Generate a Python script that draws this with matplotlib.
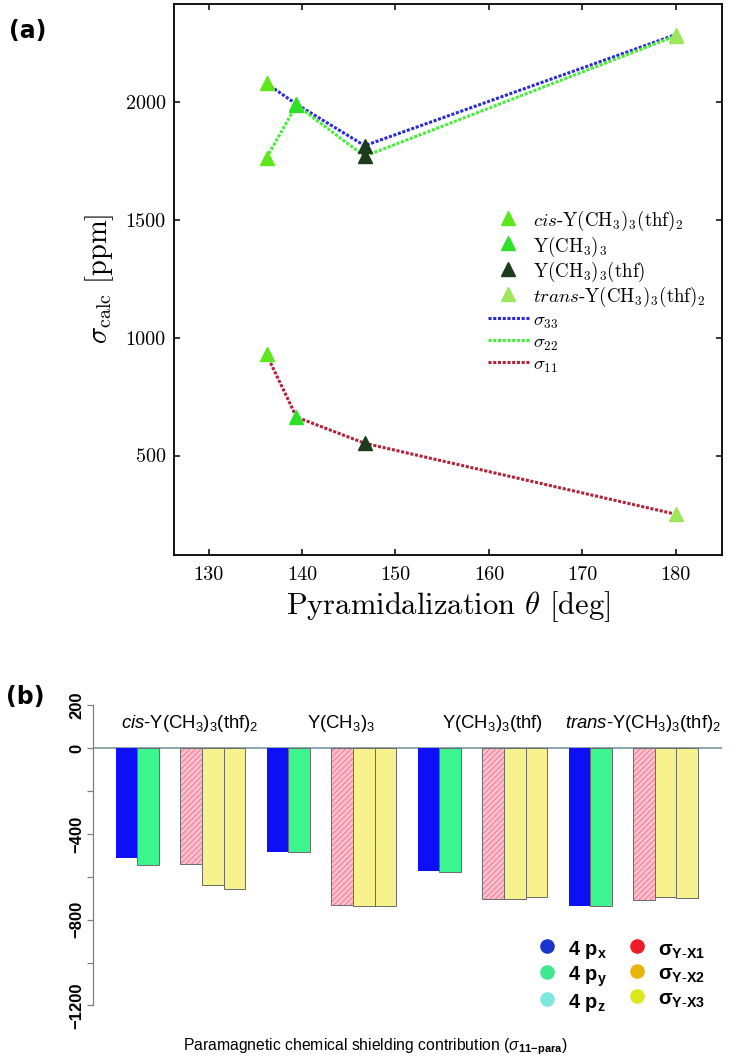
import numpy as np
import matplotlib
matplotlib.use('Agg')
import matplotlib.pyplot as plt
from matplotlib.lines import Line2D

# ---- panel (a): shielding tensor vs pyramidalization ----
compounds = [r'$cis$-Y(CH$_3$)$_3$(thf)$_2$', r'Y(CH$_3$)$_3$',
             r'Y(CH$_3$)$_3$(thf)', r'$trans$-Y(CH$_3$)$_3$(thf)$_2$']
theta = [136.2, 139.4, 146.7, 180.0]
sigma33 = [2078, 1990, 1814, 2285]
sigma22 = [1763, 1986, 1769, 2280]
sigma11 = [929, 663, 552, 251]
x_ticks_a = [130, 140, 150, 160, 170, 180]
y_ticks_a = [500, 1000, 1500, 2000]

# ---- panel (b): paramagnetic contributions ----
groups = [r'$\mathit{cis}$-Y(CH$_3$)$_3$(thf)$_2$', r'Y(CH$_3$)$_3$',
          r'Y(CH$_3$)$_3$(thf)', r'$\mathit{trans}$-Y(CH$_3$)$_3$(thf)$_2$']
p_x = [-511, -483, -572, -735]
p_y = [-543, -485, -577, -734]
p_z = [0, 0, 0, 0]
s_x1 = [-540, -731, -705, -706]
s_x2 = [-640, -734, -705, -695]
s_x3 = [-658, -734, -695, -698]
y_ticks_b = [-1200, -1000, -800, -600, -400, -200, 0, 200]
y_labels_b = ['\u22121200', '', '\u2212800', '', '\u2212400', '', '0', '200']

plt.rcParams['mathtext.fontset'] = 'custom'
plt.rcParams['mathtext.rm'] = 'Liberation Sans'
plt.rcParams['mathtext.it'] = 'Liberation Sans:italic'
plt.rcParams['mathtext.bf'] = 'Liberation Sans:bold'
plt.rcParams['hatch.linewidth'] = 0.6

fig = plt.figure(figsize=(7.49, 10.64), dpi=100)

# ---------------- (a) ----------------
ax = fig.add_axes([0.2323, 0.4788, 0.7312, 0.5175])
mk_colors = ['#5ce81c', '#2fe02a', '#1c3a1c', '#9ee65a']
line_colors = ['#2a2ad6', '#45ee35', '#b02238']
dots = (0, (1, 0.55))
ax.plot(theta, sigma33, color=line_colors[0], lw=2.2, ls=dots, zorder=2)
ax.plot(theta, sigma22, color=line_colors[1], lw=2.2, ls=dots, zorder=2)
ax.plot(theta, sigma11, color=line_colors[2], lw=2.2, ls=dots, zorder=2)
for i in range(len(theta)):
    ax.plot([theta[i]] * 3, [sigma11[i], sigma22[i], sigma33[i]], ls='',
            marker='^', ms=10.5, color=mk_colors[i], zorder=3)

ax.set_xlim(126.3, 184.9)
ax.set_ylim(80, 2415)
ax.set_xticks(x_ticks_a)
ax.set_xticklabels([str(v) for v in x_ticks_a], family='cmr10', size=14.5)
ax.set_yticks(y_ticks_a)
ax.set_yticklabels([str(v) for v in y_ticks_a], family='cmr10', size=14.5)
ax.tick_params(direction='in', top=True, right=True, length=4.5, width=1.1, pad=6)
ax.tick_params(axis='x', pad=8)
for s in ax.spines.values():
    s.set_linewidth(1.3)

xl = ax.set_xlabel(r'Pyramidalization $\theta$ [deg]', family='cmr10', size=22)
xl.set_math_fontfamily('cm')
ax.xaxis.set_label_coords(0.5, -0.062)
yl = ax.set_ylabel(r'$\sigma_{\rm calc}$ [ppm]', family='cmr10', size=20.5)
yl.set_math_fontfamily('cm')
ax.yaxis.set_label_coords(-0.105, 0.5)

handles = [Line2D([], [], ls='', marker='^', ms=10.5, color=c) for c in mk_colors]
handles += [Line2D([], [], color=c, lw=2.2, ls=dots) for c in line_colors]
labels = compounds + [r'$\sigma_{33}$', r'$\sigma_{22}$', r'$\sigma_{11}$']
leg = ax.legend(handles, labels, loc='upper left', bbox_to_anchor=(0.5554, 0.6445),
                frameon=False, borderpad=0, handlelength=2.2, handletextpad=0.2,
                handleheight=1.2, labelspacing=0.05,
                prop={'family': 'cmr10', 'size': 13.6})
for t in leg.get_texts():
    t.set_math_fontfamily('cm')

fig.text(28 / 749, 1 - 31 / 1064, '(a)', weight='bold', size=17,
         ha='center', va='center')

# ---------------- (b) ----------------
axb = fig.add_axes([0.1238, 0.04605, 0.8407, 0.3008])
base = np.arange(len(groups)) * 7
edge = '#6a6a6a'
axb.bar(base + 0, p_x, width=1, align='edge', color='#0d10f5', lw=0)
axb.bar(base + 1, p_y, width=1, align='edge', color='#3df58f', edgecolor=edge, lw=0.7)
axb.bar(base + 2, p_z, width=1, align='edge', color='#7fe5e0', lw=0)
axb.bar(base + 3, s_x1, width=1, align='edge', color='#fbc0cc', edgecolor='#ee6f8c',
        hatch='//////', lw=0)
axb.bar(base + 3, s_x1, width=1, align='edge', fill=False, edgecolor=edge, lw=0.7)
axb.bar(base + 4, s_x2, width=1, align='edge', color='#f7f18e', edgecolor=edge, lw=0.7)
axb.bar(base + 5, s_x3, width=1, align='edge', color='#f7f18e', edgecolor=edge, lw=0.7)
axb.axhline(0, color='#6f8c99', lw=1.1, zorder=0.5)

for g, name in enumerate(groups):
    axb.text(base[g] + 3.45, 117, name, ha='center', va='center', size=13.3,
             family='Liberation Sans')

axb.set_xlim(-1.07, 28.13)
axb.set_ylim(-1244.5, 248.7)
axb.set_xticks([])
axb.set_yticks(y_ticks_b)
axb.set_yticklabels(y_labels_b, rotation=90, va='center', weight='bold',
                    size=12, family='Liberation Sans')
axb.tick_params(axis='y', length=4, width=0.9, color='#808080', pad=2)
for side in ['top', 'right', 'bottom']:
    axb.spines[side].set_visible(False)
axb.spines['left'].set_bounds(-1200, 200)
axb.spines['left'].set_color('#808080')
axb.spines['left'].set_linewidth(0.9)

axb.set_xlabel(r'Paramagnetic chemical shielding contribution ($\sigma_{\mathbf{11\!-\!para}}$)',
               size=11.3, family='Liberation Sans', va='center')
axb.xaxis.set_label_coords(0.448, -0.099)

leg_colors = ['#1a34d0', '#3de88f', '#80e6e0', '#ee1c24', '#e8b40c', '#d9e81a']
leg_labels = [r'$\mathbf{4\ p_x}$', r'$\mathbf{4\ p_y}$', r'$\mathbf{4\ p_z}$',
              r'$\mathbf{\sigma_{Y\text{-}X1}}$', r'$\mathbf{\sigma_{Y\text{-}X2}}$',
              r'$\mathbf{\sigma_{Y\text{-}X3}}$']
hb = [Line2D([], [], ls='', marker='o', ms=9.5, color=c) for c in leg_colors]
fig.legend(hb, leg_labels, ncol=2, loc='upper left', bbox_to_anchor=(0.705, 0.1287),
           frameon=False, borderpad=0, handlelength=0.9, handletextpad=0.6,
           handleheight=1.4, columnspacing=1.0, labelspacing=0.05,
           prop={'family': 'Liberation Sans', 'weight': 'bold', 'size': 14.5})

fig.text(25 / 749, 1 - 697 / 1064, '(b)', weight='bold', size=17,
         ha='center', va='center')

fig.savefig('out.png', dpi=100)
